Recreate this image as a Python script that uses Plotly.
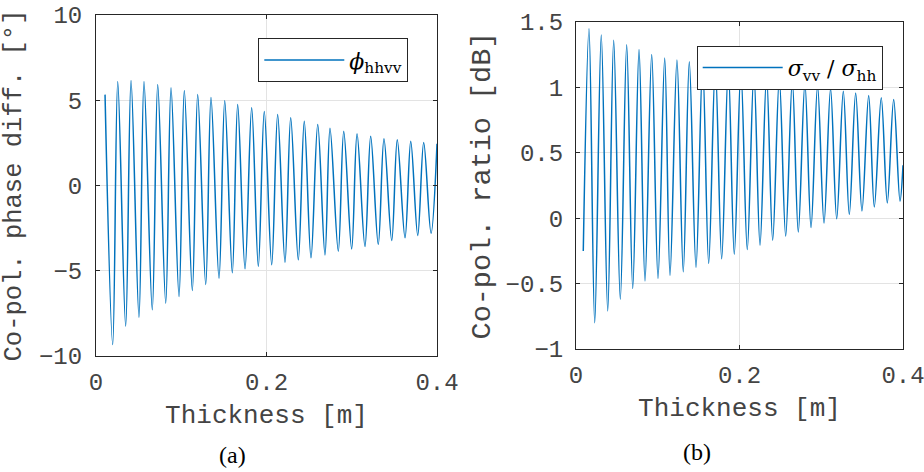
import plotly.graph_objects as go

# ---------------- data ----------------
# (a) co-pol phase difference [deg] vs thickness [m]
phase_start_x = [0.0106]
phase_start_y = [5.33]
phase_trough_x = [0.0196, 0.0348, 0.0504, 0.0660, 0.0818, 0.0974, 0.1130, 0.1287, 0.1443,
                  0.1599, 0.1748, 0.1904, 0.2061, 0.2217, 0.2373, 0.2522, 0.2686, 0.2842,
                  0.2999, 0.3155, 0.3311, 0.3469, 0.3625, 0.3774, 0.3930]
phase_trough_y = [-9.33, -8.25, -7.72, -7.29, -6.90, -6.51, -6.16, -5.81, -5.44,
                  -5.12, -4.89, -4.75, -4.65, -4.50, -4.36, -4.24, -4.07, -3.85,
                  -3.72, -3.58, -3.46, -3.23, -3.07, -2.93, -2.80]
phase_peak_x = [0.0255, 0.0411, 0.0563, 0.0724, 0.0880, 0.1036, 0.1193, 0.1349, 0.1510,
                0.1662, 0.1826, 0.1974, 0.2131, 0.2284, 0.2443, 0.2601, 0.2745, 0.2906,
                0.3062, 0.3222, 0.3378, 0.3534, 0.3692, 0.3844]
phase_peak_y = [6.10, 6.16, 6.10, 5.92, 5.73, 5.57, 5.34, 5.16, 4.97,
                4.75, 4.56, 4.34, 4.16, 3.97, 3.77, 3.58, 3.36, 3.18,
                3.03, 2.89, 2.74, 2.68, 2.60, 2.52]
phase_end_x = [0.4]
phase_end_y = [2.45]

# (b) co-pol ratio [dB] vs thickness [m]
ratio_start_x = [0.0089]
ratio_start_y = [-0.25]
ratio_peak_x = [0.0159, 0.0309, 0.0461, 0.0620, 0.0771, 0.0926, 0.1085, 0.1235, 0.1386,
                0.1549, 0.1704, 0.1863, 0.2017, 0.2176, 0.2331, 0.2487, 0.2646, 0.2800,
                0.2955, 0.3114, 0.3270, 0.3421, 0.3580, 0.3734, 0.3886]
ratio_peak_y = [1.448, 1.400, 1.360, 1.326, 1.290, 1.252, 1.224, 1.210, 1.196,
                1.180, 1.165, 1.150, 1.130, 1.110, 1.090, 1.070, 1.050, 1.030,
                1.010, 0.990, 0.970, 0.957, 0.939, 0.921, 0.908]
ratio_trough_x = [0.0229, 0.0388, 0.0542, 0.0694, 0.0844, 0.1003, 0.1150, 0.1312, 0.1468,
                  0.1623, 0.1782, 0.1936, 0.2095, 0.2251, 0.2406, 0.2565, 0.2719, 0.2875,
                  0.3034, 0.3189, 0.3343, 0.3498, 0.3649, 0.3808, 0.3963]
ratio_trough_y = [-0.800, -0.710, -0.620, -0.537, -0.480, -0.460, -0.437, -0.410, -0.376,
                  -0.346, -0.310, -0.275, -0.239, -0.206, -0.168, -0.137, -0.105, -0.071,
                  -0.036, -0.005, 0.028, 0.056, 0.086, 0.117, 0.130]
ratio_end_x = [0.4]
ratio_end_y = [0.405]

x_ticks = [0, 0.2, 0.4]
x_tick_text = ["0", "0.2", "0.4"]
phase_ticks = [-10, -5, 0, 5, 10]
phase_tick_text = ["\u221210", "\u22125", "0", "5", "10"]
ratio_ticks = [-1, -0.5, 0, 0.5, 1, 1.5]
ratio_tick_text = ["\u22121", "\u22120.5", "0", "0.5", "1", "1.5"]


def merge(*pairs):
    pts = []
    for xs, ys in pairs:
        pts.extend(zip(xs, ys))
    pts.sort(key=lambda p: p[0])
    return [p[0] for p in pts], [p[1] for p in pts]


px_, py_ = merge((phase_start_x, phase_start_y), (phase_trough_x, phase_trough_y),
                 (phase_peak_x, phase_peak_y), (phase_end_x, phase_end_y))
rx_, ry_ = merge((ratio_start_x, ratio_start_y), (ratio_trough_x, ratio_trough_y),
                 (ratio_peak_x, ratio_peak_y), (ratio_end_x, ratio_end_y))

BLUE = "#0072BD"
AX = "#262626"
TXT = "#444444"
GRID = "#e3e3e3"
MONO = "Liberation Mono, Courier New, monospace"
SERIF = "DejaVu Serif, serif"
SERIF2 = "Liberation Serif, Times New Roman, serif"

W, H = 924, 472

fig = go.Figure()
fig.add_trace(go.Scatter(x=px_, y=py_, mode="lines",
                         line=dict(color=BLUE, width=1.5, shape="spline", smoothing=1.0),
                         name="<i>\u03d5</i><sub>hhvv</sub>",
                         xaxis="x", yaxis="y", legend="legend"))
fig.add_trace(go.Scatter(x=rx_, y=ry_, mode="lines",
                         line=dict(color=BLUE, width=1.5, shape="spline", smoothing=1.0),
                         name="<i>\u03c3</i><sub>vv</sub> / <i>\u03c3</i><sub>hh</sub>",
                         xaxis="x2", yaxis="y2", legend="legend2"))

common_axis = dict(showline=True, linecolor=AX, linewidth=1, mirror="allticks",
                   ticks="inside", ticklen=4, tickcolor=AX, tickwidth=1,
                   showgrid=True, gridcolor=GRID, gridwidth=1, zeroline=False,
                   ticklabeloverflow="allow",
                   tickfont=dict(family=MONO, size=24, color=TXT), automargin=False)

fig.update_layout(
    width=W, height=H,
    margin=dict(l=0, r=0, t=0, b=0),
    paper_bgcolor="white", plot_bgcolor="white",
    showlegend=True,
    xaxis=dict(domain=[96 / W, 437 / W], range=[0, 0.4], tickvals=x_ticks, ticktext=x_tick_text,
               anchor="y", ticklabelstandoff=4,
               title=dict(text="Thickness [m]", font=dict(family=MONO, size=26, color=TXT), standoff=9),
               **common_axis),
    yaxis=dict(domain=[1 - 356 / H, 1 - 15 / H], range=[-10, 10], tickvals=phase_ticks,
               ticktext=phase_tick_text, anchor="x", ticklabelstandoff=8,
               title=dict(text="Co-pol. phase diff. [\u00b0]", font=dict(family=MONO, size=25.5, color=TXT),
                          standoff=17),
               **common_axis),
    xaxis2=dict(domain=[576 / W, 903 / W], range=[0, 0.4], tickvals=x_ticks, ticktext=x_tick_text,
                anchor="y2", ticklabelstandoff=4,
                title=dict(text="Thickness [m]", font=dict(family=MONO, size=26, color=TXT), standoff=9),
                **common_axis),
    yaxis2=dict(domain=[1 - 349 / H, 1 - 22 / H], range=[-1, 1.5], tickvals=ratio_ticks,
                ticktext=ratio_tick_text, anchor="x2", ticklabelstandoff=7,
                title=dict(text="Co-pol. ratio [dB]", font=dict(family=MONO, size=28.5, color=TXT),
                           standoff=6),
                **common_axis),
    legend=dict(x=258.3 / W, y=1 - 38.3 / H, xanchor="left", yanchor="top",
                bgcolor="white", bordercolor=AX, borderwidth=1, itemwidth=80,
                font=dict(family=SERIF, size=22, color="black")),
    legend2=dict(x=696.7 / W, y=1 - 45.7 / H, xanchor="left", yanchor="top",
                 bgcolor="white", bordercolor=AX, borderwidth=1, itemwidth=80,
                 font=dict(family=SERIF, size=22, color="black")),
    annotations=[
        dict(text="(a)", x=233 / W, y=1 - 455 / H, xref="paper", yref="paper",
             xanchor="center", yanchor="middle", showarrow=False,
             font=dict(family=SERIF2, size=24, color="black")),
        dict(text="(b)", x=697 / W, y=1 - 452 / H, xref="paper", yref="paper",
             xanchor="center", yanchor="middle", showarrow=False,
             font=dict(family=SERIF2, size=24, color="black")),
    ],
)

fig.write_html("out.html")
